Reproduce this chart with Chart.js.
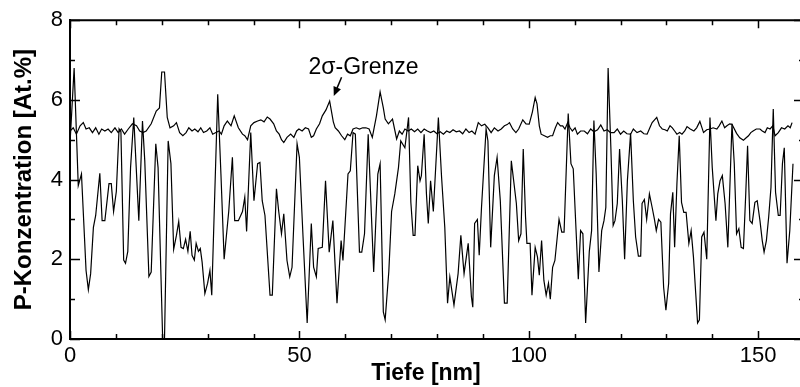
<!DOCTYPE html>
<html>
<head>
<meta charset="utf-8">
<script src="https://cdn.jsdelivr.net/npm/chart.js@4/dist/chart.umd.min.js"></script>
<style>
  html, body { margin: 0; padding: 0; background: #fff; overflow: hidden; }
  #wrap { position: absolute; left: 0; top: 0; width: 808px; height: 387px; }
</style>
</head>
<body>
<div id="wrap"><canvas id="chart" width="808" height="387"></canvas></div>
<script>
// P-Konzentration (gemessen) über Tiefe
const depthMeas = [0, 0.9, 1.8, 2.5, 3.5, 4.0, 4.5, 5.1, 5.6, 6.5, 7.0, 7.6, 8.5, 9.0, 9.5, 10.1, 10.7, 11.1, 11.7, 12.1,
  12.6, 13.2, 13.9, 15.0, 15.8, 16.3, 17.2, 17.7, 18.7, 19.2, 20.2, 20.6, 21.4, 22.0, 22.6, 23.2, 23.7, 24.2, 24.7, 25.2,
  25.7, 26.2, 26.6, 27.1, 27.5, 28.0, 28.4, 28.8, 29.4, 30.0, 30.5, 30.9, 32.2, 32.9, 33.6, 34.6, 35.4, 35.9, 36.7, 37.6,
  38.1, 38.5, 39.4, 40.1, 40.9, 41.4, 41.9, 42.5, 43.6, 44.1, 45.0, 45.5, 46.1, 46.6, 47.3, 47.9, 48.4, 49.5, 50.0, 50.8,
  51.7, 52.6, 53.1, 53.7, 54.1, 55.0, 55.7, 56.5, 57.3, 58.2, 59.1, 59.5, 60.6, 61.1, 61.7, 62.2, 63.1, 63.6, 64.2, 65.0,
  66.2, 67.1, 67.6, 68.3, 68.7, 69.5, 70.1, 70.8, 71.6, 72.1, 73.0, 73.8, 74.3, 74.8, 75.2, 75.8, 76.3, 76.6, 77.2, 77.7,
  78.1, 78.6, 79.2, 80.3, 81.0, 81.7, 82.3, 82.8, 83.7, 84.6, 85.2, 85.9, 86.8, 87.5, 87.8, 88.2, 88.8, 89.2, 89.7, 90.7,
  91.1, 91.7, 92.5, 93.1, 93.8, 94.7, 95.3, 96.2, 97.3, 97.8, 98.3, 98.8, 99.3, 99.6, 100.3, 100.7, 101.4, 101.9, 102.3, 102.8,
  103.3, 103.8, 104.3, 104.7, 105.2, 105.7, 106.6, 107.2, 107.7, 108.6, 109.2, 109.7, 110.8, 111.3, 111.8, 112.4, 113.2, 113.7, 114.2, 114.7,
  115.3, 115.9, 116.4, 116.8, 117.3, 117.9, 118.4, 118.8, 119.3, 119.8, 120.4, 120.9, 121.5, 122.2, 122.8, 123.3, 123.9, 124.4, 124.7, 125.2,
  125.7, 126.3, 126.9, 127.4, 127.8, 128.3, 128.8, 129.4, 129.9, 130.5, 130.9, 131.4, 131.8, 132.3, 132.8, 133.3, 133.8, 134.3, 134.9, 135.4,
  135.9, 136.4, 136.8, 137.2, 137.7, 138.2, 138.8, 139.5, 140.0, 140.8, 141.2, 141.7, 142.2, 142.8, 143.4, 144.3, 144.8, 145.3, 145.8, 146.3,
  146.8, 147.3, 147.7, 148.2, 148.7, 149.3, 149.8, 150.4, 150.9, 151.3, 151.8, 152.3, 152.8, 153.3, 153.8, 154.4, 154.8, 155.3, 155.7, 156.3,
  156.9, 157.6];
const concMeas = [4.9, 6.8, 3.85, 4.14, 1.72, 1.24, 1.64, 2.8, 3.1, 4.16, 2.97, 2.97, 3.9, 3.9, 3.2, 3.7, 5.27, 5.2, 1.98, 1.9,
  2.2, 4.3, 5.56, 2.97, 5.47, 4.47, 1.57, 1.68, 4.9, 4.3, 0.0, 0.0, 4.97, 4.4, 2.25, 2.6, 2.95, 2.3, 2.27, 2.5,
  2.2, 2.7, 2.1, 1.98, 2.4, 2.2, 2.27, 1.93, 1.14, 1.4, 1.72, 1.1, 6.14, 4.14, 2.0, 3.2, 4.56, 2.97, 2.97, 3.2,
  3.56, 2.7, 5.18, 3.47, 4.4, 4.43, 3.47, 3.1, 1.1, 1.1, 3.77, 3.2, 2.64, 3.14, 1.97, 1.56, 1.8, 4.9, 4.56, 2.56,
  0.4, 2.9, 1.8, 1.56, 2.27, 2.3, 3.97, 2.18, 2.97, 0.9, 2.47, 1.97, 4.14, 4.22, 5.18, 5.14, 2.18, 2.18, 2.64, 5.14,
  1.68, 4.14, 4.4, 0.68, 0.48, 1.7, 3.2, 3.64, 4.3, 4.97, 4.8, 5.56, 3.43, 2.6, 2.6, 4.35, 3.97, 4.1, 5.14, 3.64,
  2.9, 3.97, 3.2, 5.56, 4.06, 2.8, 0.9, 1.56, 0.85, 1.64, 2.6, 1.64, 2.4, 1.06, 0.8, 2.9, 3.0, 2.1, 3.3, 5.27,
  4.97, 2.3, 4.1, 4.56, 3.47, 0.9, 0.9, 4.47, 3.4, 2.47, 2.64, 4.77, 3.06, 2.4, 2.4, 1.1, 2.3, 2.06, 1.6, 2.47,
  1.47, 1.1, 1.4, 1.0, 1.8, 1.97, 3.0, 2.68, 2.68, 5.66, 4.4, 4.27, 1.5, 2.72, 2.64, 0.4, 2.2, 2.72, 5.48, 4.14,
  1.68, 2.72, 2.97, 3.3, 6.8, 4.8, 2.85, 2.97, 3.4, 4.77, 3.47, 2.0, 3.97, 5.16, 3.47, 2.56, 2.08, 2.08, 3.4, 3.5,
  3.0, 3.64, 3.3, 3.0, 2.72, 3.0, 2.93, 1.3, 0.72, 1.4, 3.14, 3.68, 2.3, 3.9, 5.1, 3.43, 3.18, 3.18, 2.4, 2.72,
  2.06, 1.14, 0.4, 0.48, 2.56, 2.68, 2.0, 5.56, 4.3, 2.97, 3.64, 3.97, 4.1, 3.4, 2.3, 5.4, 4.4, 2.64, 2.77, 2.3,
  2.27, 3.64, 4.85, 2.97, 2.9, 3.43, 3.47, 2.97, 2.47, 2.18, 2.47, 3.06, 3.8, 5.77, 3.68, 3.1, 3.1, 4.4, 4.8, 1.9,
  2.72, 4.4];

// 2-Sigma-Grenze
const depthLimit = [0.0, 0.7, 1.4, 2.2, 2.9, 3.5, 4.2, 4.9, 5.6, 6.3, 6.9, 7.6, 8.3, 9.0, 9.8, 10.5, 11.2, 11.9, 12.7, 13.6,
  14.5, 15.2, 15.9, 16.6, 17.7, 18.8, 19.5, 20.0, 20.6, 21.2, 21.8, 22.6, 23.2, 23.9, 24.6, 25.3, 25.9, 26.6, 27.2, 27.9,
  28.5, 29.1, 29.8, 30.5, 31.1, 31.8, 32.5, 33.0, 33.6, 34.3, 35.1, 35.8, 36.7, 37.6, 38.1, 38.7, 39.4, 40.1, 40.9, 41.6,
  42.3, 43.0, 43.6, 44.4, 45.0, 45.6, 46.1, 46.6, 47.3, 48.1, 48.8, 49.4, 49.9, 50.6, 51.3, 52.0, 52.6, 53.1, 53.7, 54.4,
  55.0, 55.8, 56.6, 57.4, 57.8, 58.5, 59.2, 59.9, 60.5, 61.1, 61.7, 62.4, 63.1, 63.8, 64.5, 65.2, 65.9, 66.8, 67.6, 68.3,
  68.7, 69.4, 70.3, 71.2, 71.8, 72.4, 73.0, 73.7, 74.4, 75.1, 75.8, 76.5, 77.2, 77.9, 78.6, 79.3, 80.0, 80.7, 81.4, 82.1,
  82.8, 83.5, 84.2, 84.9, 85.6, 86.3, 87.0, 87.6, 88.3, 89.0, 89.7, 90.4, 91.1, 91.8, 92.5, 93.3, 94.0, 94.7, 95.3, 95.8,
  96.5, 97.2, 97.8, 98.7, 99.4, 100.1, 100.8, 101.4, 101.8, 102.3, 102.7, 103.4, 104.1, 104.7, 105.2, 105.8, 106.3, 106.9, 107.4, 107.9,
  108.5, 109.0, 109.5, 110.1, 110.6, 111.3, 112.1, 112.8, 113.5, 114.2, 115.0, 115.7, 116.4, 117.1, 117.8, 118.6, 119.3, 120.0, 120.7, 121.4,
  122.2, 122.8, 123.6, 124.4, 125.1, 125.8, 126.4, 126.9, 127.9, 128.5, 129.1, 129.7, 130.2, 130.8, 131.3, 131.8, 132.3, 132.9, 133.4, 134.0,
  134.5, 135.2, 136.0, 136.6, 137.3, 138.1, 138.8, 139.5, 140.2, 141.0, 141.5, 142.1, 142.7, 143.2, 143.8, 144.3, 145.3, 146.0, 146.8, 147.4,
  147.9, 148.4, 148.9, 149.6, 150.4, 150.9, 151.5, 152.0, 152.6, 153.2, 153.7, 154.4, 155.1, 155.8, 156.5, 157.0, 157.4];
const concLimit = [5.22, 5.30, 5.14, 5.35, 5.43, 5.27, 5.30, 5.18, 5.30, 5.14, 5.27, 5.22, 5.27, 5.18, 5.30, 5.18, 5.27, 5.14, 5.27, 5.40,
  5.35, 5.22, 5.18, 5.22, 5.40, 5.72, 5.80, 6.70, 6.70, 5.56, 5.30, 5.35, 5.43, 5.18, 5.10, 5.18, 5.30, 5.22, 5.27, 5.20,
  5.30, 5.18, 5.22, 5.30, 5.14, 5.18, 5.22, 5.14, 5.35, 5.47, 5.35, 5.60, 5.30, 5.14, 5.10, 5.00, 5.35, 5.43, 5.47, 5.50,
  5.45, 5.57, 5.52, 5.40, 5.22, 5.14, 5.00, 4.93, 5.06, 5.14, 5.06, 5.22, 5.27, 5.22, 5.30, 5.27, 5.06, 5.10, 5.27, 5.40,
  5.60, 5.75, 5.97, 5.45, 5.30, 5.22, 5.10, 5.00, 5.14, 5.10, 5.27, 5.30, 5.27, 5.30, 5.30, 5.27, 5.06, 5.60, 6.20, 5.80,
  5.52, 5.40, 5.52, 5.02, 5.22, 5.14, 5.27, 5.22, 5.27, 5.20, 5.27, 5.18, 5.27, 5.22, 5.18, 5.22, 5.15, 5.20, 5.14, 5.22,
  5.18, 5.25, 5.20, 5.22, 5.15, 5.27, 5.18, 5.22, 5.14, 5.43, 5.35, 5.39, 5.30, 5.18, 5.30, 5.22, 5.27, 5.35, 5.38, 5.43,
  5.27, 5.18, 5.27, 5.50, 5.40, 5.39, 5.70, 6.06, 5.90, 5.35, 5.14, 5.10, 5.06, 5.10, 5.10, 5.30, 5.43, 5.35, 5.35, 5.27,
  5.43, 5.30, 5.22, 5.30, 5.14, 5.22, 5.22, 5.15, 5.27, 5.20, 5.25, 5.37, 5.22, 5.25, 5.18, 5.18, 5.27, 5.14, 5.22, 5.15,
  5.14, 5.27, 5.18, 5.22, 5.15, 5.14, 5.30, 5.43, 5.56, 5.35, 5.27, 5.25, 5.22, 5.35, 5.30, 5.22, 5.14, 5.18, 5.14, 5.22,
  5.33, 5.27, 5.22, 5.30, 5.46, 5.18, 5.25, 5.27, 5.30, 5.27, 5.35, 5.47, 5.30, 5.35, 5.40, 5.39, 5.16, 5.05, 4.99, 5.05,
  5.10, 5.18, 5.22, 5.27, 5.27, 5.22, 5.18, 5.30, 5.27, 5.35, 5.10, 5.18, 5.30, 5.27, 5.35, 5.30, 5.43];

const xTicks = [0, 50, 100, 150];
const yTicks = [0, 2, 4, 6, 8];
const limitLabel = '2σ-Grenze';
const limitLabelPos = [64.0, 6.8];
const limitArrow = [[59.2, 6.57], [57.5, 6.1]];
const xTitle = 'Tiefe [nm]';
const yTitle = 'P-Konzentration [At.%]';

const FONT = '"Liberation Sans", Arial, sans-serif';
const toPoints = (xs, ys) => xs.map((x, i) => ({ x: x, y: ys[i] }));

// Rahmen, innenliegende Ticks, Beschriftungen
const framePlugin = {
  id: 'frame',
  afterDraw(chart) {
    const { ctx, chartArea: a, scales: { x, y } } = chart;
    ctx.save();
    ctx.strokeStyle = '#000';
    ctx.lineWidth = 2;
    ctx.beginPath();
    ctx.moveTo(a.left, a.top); ctx.lineTo(a.right, a.top);
    ctx.moveTo(a.right, a.top); ctx.lineTo(a.right, a.bottom);
    ctx.stroke();

    ctx.lineWidth = 1.5;
    ctx.beginPath();
    for (let v = 0; v <= 160; v += 10) {
      const px = Math.round(x.getPixelForValue(v)) + 0.5;
      const len = xTicks.includes(v) ? 8 : 5;
      ctx.moveTo(px, a.bottom); ctx.lineTo(px, a.bottom - len);
      ctx.moveTo(px, a.top); ctx.lineTo(px, a.top + len);
    }
    for (let v = 0; v <= 8; v += 1) {
      const py = Math.round(y.getPixelForValue(v)) + 0.5;
      const len = yTicks.includes(v) ? 10 : 5;
      ctx.moveTo(a.left, py); ctx.lineTo(a.left + len, py);
      ctx.moveTo(a.right, py); ctx.lineTo(a.right - len, py);
    }
    ctx.stroke();

    // Annotation 2σ-Grenze
    ctx.fillStyle = '#000';
    ctx.font = '23px ' + FONT;
    ctx.textAlign = 'center';
    ctx.textBaseline = 'middle';
    ctx.fillText(limitLabel, x.getPixelForValue(limitLabelPos[0]), y.getPixelForValue(limitLabelPos[1]));

    const x0 = x.getPixelForValue(limitArrow[0][0]), y0 = y.getPixelForValue(limitArrow[0][1]);
    const x1 = x.getPixelForValue(limitArrow[1][0]), y1 = y.getPixelForValue(limitArrow[1][1]);
    const ang = Math.atan2(y1 - y0, x1 - x0);
    ctx.lineWidth = 1.5;
    ctx.beginPath();
    ctx.moveTo(x0, y0);
    ctx.lineTo(x1 - 6 * Math.cos(ang), y1 - 6 * Math.sin(ang));
    ctx.stroke();
    ctx.beginPath();
    ctx.moveTo(x1, y1);
    ctx.lineTo(x1 - 9 * Math.cos(ang) + 4 * Math.sin(ang), y1 - 9 * Math.sin(ang) - 4 * Math.cos(ang));
    ctx.lineTo(x1 - 9 * Math.cos(ang) - 4 * Math.sin(ang), y1 - 9 * Math.sin(ang) + 4 * Math.cos(ang));
    ctx.closePath();
    ctx.fill();

    // x-Achsentitel
    ctx.font = 'bold 23px ' + FONT;
    ctx.fillText(xTitle, x.getPixelForValue(77.6), 374);
    ctx.restore();
  }
};

new Chart(document.getElementById('chart'), {
  type: 'scatter',
  data: {
    datasets: [
      {
        label: 'P-Konzentration',
        data: toPoints(depthMeas, concMeas),
        showLine: true,
        borderColor: '#000',
        borderWidth: 1.2,
        pointRadius: 0,
        tension: 0
      },
      {
        label: '2σ-Grenze',
        data: toPoints(depthLimit, concLimit),
        showLine: true,
        borderColor: '#000',
        borderWidth: 1.2,
        pointRadius: 0,
        tension: 0
      }
    ]
  },
  options: {
    responsive: false,
    devicePixelRatio: 1,
    animation: false,
    layout: { padding: { top: 19, right: 0, left: 0, bottom: 0 } },
    plugins: { legend: { display: false }, tooltip: { enabled: false } },
    scales: {
      x: {
        type: 'linear',
        min: 0,
        max: 160,
        grid: { display: false, drawTicks: false, tickLength: 0 },
        border: { display: true, color: '#000', width: 2 },
        ticks: {
          stepSize: 10,
          autoSkip: false,
          maxRotation: 0,
          padding: 4,
          color: '#000',
          font: { family: FONT, size: 22 },
          callback: v => xTicks.includes(v) ? String(v) : ''
        },
        afterFit: s => { s.height = 48; }
      },
      y: {
        min: 0,
        max: 8,
        grid: { display: false, drawTicks: false, tickLength: 0 },
        border: { display: true, color: '#000', width: 2 },
        ticks: {
          stepSize: 1,
          autoSkip: false,
          padding: 7,
          color: '#000',
          font: { family: FONT, size: 22 },
          callback: v => yTicks.includes(v) ? String(v) : ''
        },
        title: {
          display: true,
          text: yTitle,
          color: '#000',
          font: { family: FONT, size: 24, weight: 'bold' },
          padding: { top: 10, bottom: 0 }
        },
        afterFit: s => { s.width = 70; }
      }
    }
  },
  plugins: [framePlugin]
});
</script>
</body>
</html>
